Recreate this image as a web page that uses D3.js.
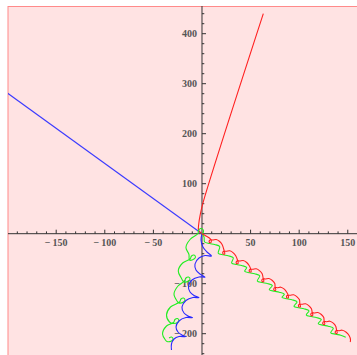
<!DOCTYPE html>
<html>
<head>
<meta charset="utf-8">
<script src="https://cdn.jsdelivr.net/npm/d3@7"></script>
<style>
  body { margin: 0; background: #fff; }
  svg { display: block; }
  .lbl { font-family: "Liberation Serif", "DejaVu Serif", serif; font-size: 10px; font-weight: bold; fill: #555; }
</style>
</head>
<body>
<div id="chart"></div>
<script>
// tick labels
var xTicks = [-150, -100, -50, 50, 100, 150];
var yTicks = [-200, -100, 100, 200, 300, 400];

// straight drift lines (data units)
var redLine = [[0, 0], [-3.5, 7], [-3.3, 20], [-1.8, 38], [0.8, 60], [63.1, 440]];
var blueLine = [[-200, 281], [0, 0]];

// red loops drifting down-right
var redLoops = [[0, 0], [4.1, -4.6], [8.7, -10.6],
  [9.4, -17.6], [7.7, -17.6], [7.4, -14.6], [8.9, -12.2], [11.0, -12.6], [14.6, -11.6], [18.2, -15.6], [20.7, -21.6], [22.7, -33.2],
  [23.4, -40.2], [21.7, -40.2], [21.4, -37.2], [22.9, -34.8], [25.0, -35.2], [28.6, -34.2], [32.2, -38.2], [34.7, -44.2], [36.5, -52.6],
  [37.2, -59.6], [35.5, -59.6], [35.2, -56.6], [36.7, -54.2], [38.8, -54.6], [42.4, -53.6], [46.0, -57.6], [48.5, -63.6], [49.9, -69.2],
  [50.6, -76.2], [48.9, -76.2], [48.6, -73.2], [50.1, -70.8], [52.2, -71.2], [55.8, -70.2], [59.4, -74.2], [61.9, -80.2], [62.9, -88.6],
  [63.6, -95.6], [61.9, -95.6], [61.6, -92.6], [63.1, -90.2], [65.2, -90.6], [68.8, -89.6], [72.4, -93.6], [74.9, -99.6], [75.2, -106],
  [75.9, -113], [74.2, -113], [73.9, -110], [75.4, -107.6], [77.5, -108], [81.1, -107], [84.7, -111], [87.2, -117], [88.3, -121.2],
  [89.0, -128.2], [87.3, -128.2], [87.0, -125.2], [88.5, -122.8], [90.6, -123.2], [94.2, -122.2], [97.8, -126.2], [100.3, -132.2], [100.6, -139.2],
  [101.3, -146.2], [99.6, -146.2], [99.3, -143.2], [100.8, -140.8], [102.9, -141.2], [106.5, -140.2], [110.1, -144.2], [112.6, -150.2], [113.3, -156.6],
  [114.0, -163.6], [112.3, -163.6], [112.0, -160.6], [113.5, -158.2], [115.6, -158.6], [119.2, -157.6], [122.8, -161.6], [125.3, -167.6], [125.6, -174],
  [126.3, -181], [124.6, -181], [124.3, -178], [125.8, -175.6], [127.9, -176], [131.5, -175], [135.1, -179], [137.6, -185], [138.4, -192],
  [139.1, -199], [137.4, -199], [137.1, -196], [138.6, -193.6], [140.7, -194], [144.3, -193], [148.4, -197], [151.5, -204], [152.8, -212], [152.5, -216.6]];

// green arcs under the red loops
var greenRight = [[0, 0], [2.1, -6.6],
  [2.7, -16.6], [7.9, -19.6], [13.0, -21.6], [18.2, -25.6],
  [16.7, -39.2], [21.9, -42.2], [27.0, -44.2], [32.2, -48.2],
  [30.5, -58.6], [35.7, -61.6], [40.8, -63.6], [46.0, -67.6],
  [43.9, -75.2], [49.1, -78.2], [54.2, -80.2], [59.4, -84.2],
  [56.9, -94.6], [62.1, -97.6], [67.2, -99.6], [72.4, -103.6],
  [69.2, -112], [74.4, -115], [79.5, -117], [84.7, -121],
  [82.3, -127.2], [87.5, -130.2], [92.6, -132.2], [97.8, -136.2],
  [94.6, -145.2], [99.8, -148.2], [104.9, -150.2], [110.1, -154.2],
  [107.3, -162.6], [112.5, -165.6], [117.6, -167.6], [122.8, -171.6],
  [119.6, -180], [124.8, -183], [129.9, -185], [135.1, -189],
  [132.4, -198], [137.6, -201], [142.7, -203], [147.9, -207]];

// green loops drifting down-left
var greenLeft = [[0, 0], [1.5, 3.4], [1.0, 8.4], [-1.5, 10.4], [-3.6, 6.4], [-4.1, 0.4],
  [-12.3, -11.6], [-16.5, -27.6], [-13.4, -41.6], [-12.9, -52.6],
  [-8.2, -50.6], [-6.7, -46.6], [-8.2, -42.6], [-10.8, -44.6], [-12.3, -50.6],
  [-19.9, -58.6], [-24.4, -74.6], [-21.3, -88.6], [-18.5, -96.6],
  [-13.9, -94.6], [-12.3, -90.6], [-13.9, -86.6], [-16.5, -88.6], [-18.0, -94.6],
  [-24.7, -104.6], [-28.8, -120.6], [-25.7, -134.6], [-23.7, -138.6],
  [-19.0, -136.6], [-17.5, -132.6], [-19.0, -128.6], [-21.6, -130.6], [-23.1, -136.6],
  [-32.4, -146.6], [-36.5, -162.6], [-33.4, -176.6], [-29.8, -179.6],
  [-25.2, -177.6], [-23.7, -173.6], [-25.2, -169.6], [-27.8, -171.6], [-29.3, -177.6],
  [-36.5, -184.6], [-40.6, -200.6], [-37.6, -212.6], [-36.0, -215.6],
  [-31.4, -214.6], [-29.8, -210.6], [-31.4, -206.6], [-33.9, -208.6]];

// blue cusped curve going down
var blueCusps = [[0, 0], [-1.0, -12.6], [1.0, -26.6], [5.1, -36.6], [9.8, -44.6],
  [3.1, -43.6], [-3.1, -48.6], [-7.2, -60.6], [-6.2, -72.6], [-2.1, -80.6], [3.1, -86.6],
  [-3.1, -86.6], [-10.3, -92.6], [-13.9, -104.6], [-12.3, -116.6], [-8.2, -123.6], [-3.1, -128],
  [-9.3, -127.6], [-16.5, -133.6], [-20.6, -146.6], [-18.5, -158.6], [-14.4, -164.6], [-9.6, -168],
  [-16.5, -167.6], [-23.7, -174.6], [-26.7, -186.6], [-24.7, -196.6], [-20.6, -202.6], [-16.8, -206],
  [-23.7, -205.6], [-28.8, -210.6], [-31.4, -220.6], [-31.4, -232.6]];

var W = 357, H = 355;
var x = d3.scaleLinear().domain([-200, 160]).range([7.6, 357.5]);
var y = d3.scaleLinear().domain([-243, 455]).range([355.2, 6.2]);

var svg = d3.select("#chart").append("svg")
    .attr("width", W)
    .attr("height", H);

svg.append("defs").append("clipPath").attr("id", "plotclip")
  .append("rect").attr("x", 8).attr("y", 6).attr("width", W).attr("height", H);

// background with frame
svg.append("rect")
    .attr("x", 8).attr("y", 6.5)
    .attr("width", W + 10).attr("height", H + 10)
    .attr("fill", "#ffe3e3")
    .attr("stroke", "#ff8a8a")
    .attr("stroke-width", 1);

// minor ticks
var xMinor = d3.range(-190, 160, 10).filter(function(v) { return v % 50 != 0; });
var yMinor = d3.range(-240, 460, 20).filter(function(v) { return v % 100 != 0; });

var ax = svg.append("g").attr("stroke", "#333").attr("stroke-width", 1);
ax.append("line").attr("x1", 8).attr("x2", W).attr("y1", y(0)).attr("y2", y(0));
ax.append("line").attr("x1", x(0)).attr("x2", x(0)).attr("y1", 6).attr("y2", H);

ax.selectAll(".xmin").data(xMinor).enter().append("line")
    .attr("x1", function(d) { return x(d); }).attr("x2", function(d) { return x(d); })
    .attr("y1", y(0)).attr("y2", y(0) - 2.3);
ax.selectAll(".xmaj").data(xTicks).enter().append("line")
    .attr("x1", function(d) { return x(d); }).attr("x2", function(d) { return x(d); })
    .attr("y1", y(0)).attr("y2", y(0) - 4);
ax.selectAll(".ymin").data(yMinor).enter().append("line")
    .attr("y1", function(d) { return y(d); }).attr("y2", function(d) { return y(d); })
    .attr("x1", x(0)).attr("x2", x(0) + 2.3);
ax.selectAll(".ymaj").data(yTicks).enter().append("line")
    .attr("y1", function(d) { return y(d); }).attr("y2", function(d) { return y(d); })
    .attr("x1", x(0)).attr("x2", x(0) + 4);

function fmt(v) { return v < 0 ? "\u2212\u2009" + Math.abs(v) : String(v); }

svg.selectAll(".xl").data(xTicks).enter().append("text")
    .attr("class", "lbl")
    .attr("x", function(d) { return x(d); })
    .attr("y", y(0) + 12)
    .attr("text-anchor", "middle")
    .text(fmt);

svg.selectAll(".yl").data(yTicks).enter().append("text")
    .attr("class", "lbl")
    .attr("x", x(0) - 5)
    .attr("y", function(d) { return y(d) + 3.5; })
    .attr("text-anchor", "end")
    .text(fmt);

// curves
var line = d3.line()
    .x(function(d) { return x(d[0]); })
    .y(function(d) { return y(d[1]); })
    .curve(d3.curveCatmullRom.alpha(0.5));

var curves = [
  { pts: blueLine, c: "#3a3aff" },
  { pts: redLine, c: "#ff2020" },
  { pts: greenLeft, c: "#22ee22" },
  { pts: blueCusps, c: "#2a2aff" },
  { pts: greenRight, c: "#22ee22" },
  { pts: redLoops, c: "#ff2020" }
];

svg.append("g").attr("clip-path", "url(#plotclip)")
  .selectAll("path").data(curves).enter().append("path")
    .attr("d", function(d) { return line(d.pts); })
    .attr("fill", "none")
    .attr("stroke", function(d) { return d.c; })
    .attr("stroke-width", 1.1);
</script>
</body>
</html>
